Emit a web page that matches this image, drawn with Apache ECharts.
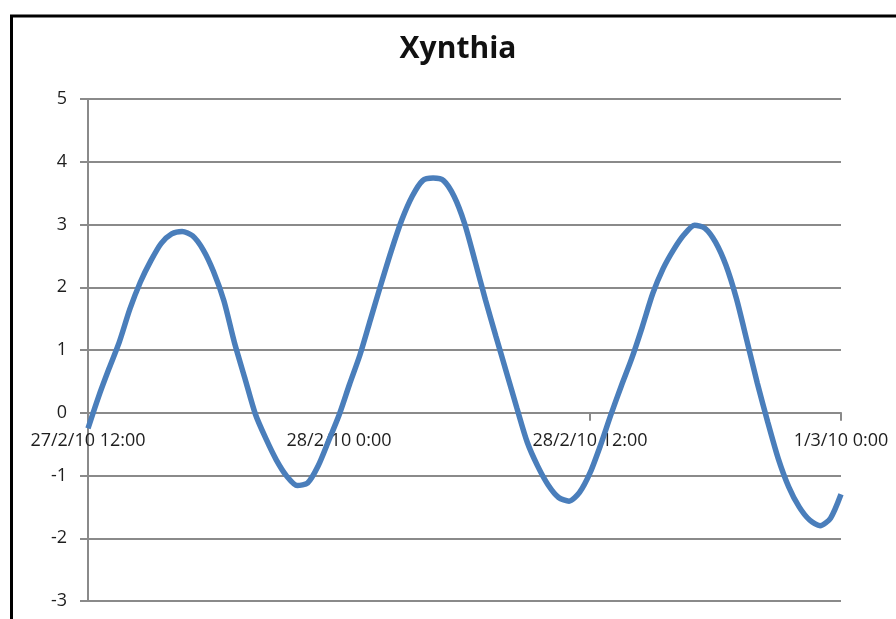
<!DOCTYPE html>
<html>
<head>
<meta charset="utf-8">
<script src="https://cdn.jsdelivr.net/npm/echarts@6/dist/echarts.min.js"></script>
<style>
  html, body { margin: 0; padding: 0; background: #ffffff; }
  #chart { width: 896px; height: 619px; }
</style>
</head>
<body>
<div id="chart"></div>
<script>
// Hours elapsed since 27/2/10 12:00, one reading every half hour
const hours = [0, 0.5, 1, 1.5, 2, 2.5, 3, 3.5, 4, 4.5, 5, 5.5, 6, 6.5, 7, 7.5, 8, 8.5,
               9, 9.5, 10, 10.5, 11, 11.5, 12, 12.5, 13, 13.5, 14, 14.5, 15, 15.5, 16, 16.5,
               17, 17.5, 18, 18.5, 19, 19.5, 20, 20.5, 21, 21.5, 22, 22.5, 23, 23.5, 24, 24.5,
               25, 25.5, 26, 26.5, 27, 27.5, 28, 28.5, 29, 29.5, 30, 30.5, 31, 31.5, 32, 32.5,
               33, 33.5, 34, 34.5, 35, 35.5, 36];
// Sea level (m) at each reading
const seaLevel = [-0.25, 0.25, 0.70, 1.13, 1.65, 2.08, 2.42, 2.70, 2.85, 2.89, 2.82, 2.60,
                  2.25, 1.78, 1.12, 0.55, -0.02, -0.41, -0.75, -1.01, -1.16, -1.12, -0.85, -0.45,
                  -0.04, 0.45, 0.92, 1.48, 2.04, 2.58, 3.07, 3.45, 3.70, 3.74, 3.70, 3.45,
                  3.02, 2.42, 1.80, 1.22, 0.65, 0.08, -0.47, -0.85, -1.15, -1.35, -1.41, -1.27,
                  -0.96, -0.52, -0.03, 0.43, 0.87, 1.37, 1.90, 2.30, 2.60, 2.84, 2.99, 2.94,
                  2.72, 2.35, 1.82, 1.15, 0.47, -0.15, -0.73, -1.18, -1.50, -1.71, -1.80, -1.68,
                  -1.30];
// Date labels every 12 hours
const tickLabels = ['27/2/10 12:00', '28/2/10 0:00', '28/2/10 12:00', '1/3/10 0:00'];

const gridGray = '#8a8a8a';
const textColor = '#1e1e1e';
const fontFamily = '"Open Sans", "Liberation Sans", sans-serif';

const chart = echarts.init(document.getElementById('chart'), null, { renderer: 'canvas' });

chart.setOption({
  animation: false,
  backgroundColor: '#ffffff',
  title: {
    text: 'Xynthia',
    left: 453,
    top: 29,
    textAlign: 'center',
    textStyle: { fontFamily: fontFamily, fontWeight: 'bold', fontSize: 30, color: '#111111' }
  },
  graphic: [{
    type: 'rect',
    shape: { x: 11.5, y: 16, width: 1000, height: 800 },
    style: { fill: 'none', stroke: '#000000', lineWidth: 3 },
    silent: true
  }],
  grid: { left: 88, right: 55, top: 99, bottom: 18, containLabel: false, outerBoundsMode: 'none' },
  xAxis: {
    type: 'value',
    position: 'bottom',
    min: 0,
    max: 36,
    interval: 12,
    offset: 0,
    axisLine: { show: true, onZero: false, lineStyle: { color: gridGray, width: 2 } },
    axisTick: { show: true, inside: false, length: 8, lineStyle: { color: gridGray, width: 2 } },
    splitLine: { show: false },
    axisLabel: {
      margin: 19,
      fontFamily: fontFamily,
      fontSize: 18,
      color: textColor,
      showMinLabel: true,
      showMaxLabel: true,
      formatter: function (v) { return tickLabels[Math.round(v / 12)]; }
    }
  },
  yAxis: {
    type: 'value',
    min: -3,
    max: 5,
    interval: 1,
    axisLine: { show: true, lineStyle: { color: gridGray, width: 2 } },
    axisTick: { show: true, length: 8, lineStyle: { color: gridGray, width: 2 } },
    splitLine: { show: true, lineStyle: { color: gridGray, width: 2 } },
    axisLabel: { margin: 21, fontFamily: fontFamily, fontSize: 18, color: textColor }
  },
  series: [{
    type: 'line',
    data: hours.map((h, i) => [h, seaLevel[i]]),
    smooth: 0.25,
    showSymbol: false,
    symbol: 'none',
    clip: false,
    lineStyle: { color: '#4a7ebb', width: 5.5 },
    itemStyle: { color: '#4a7ebb' },
    z: 5
  }]
});

// Lift the time axis (line, ticks and labels) from the bottom edge up to the zero level
const yZero = chart.convertToPixel({ yAxisIndex: 0 }, 0);
const yBottom = chart.convertToPixel({ yAxisIndex: 0 }, -3);
chart.setOption({ xAxis: { offset: -(yBottom - yZero) } });
</script>
</body>
</html>
